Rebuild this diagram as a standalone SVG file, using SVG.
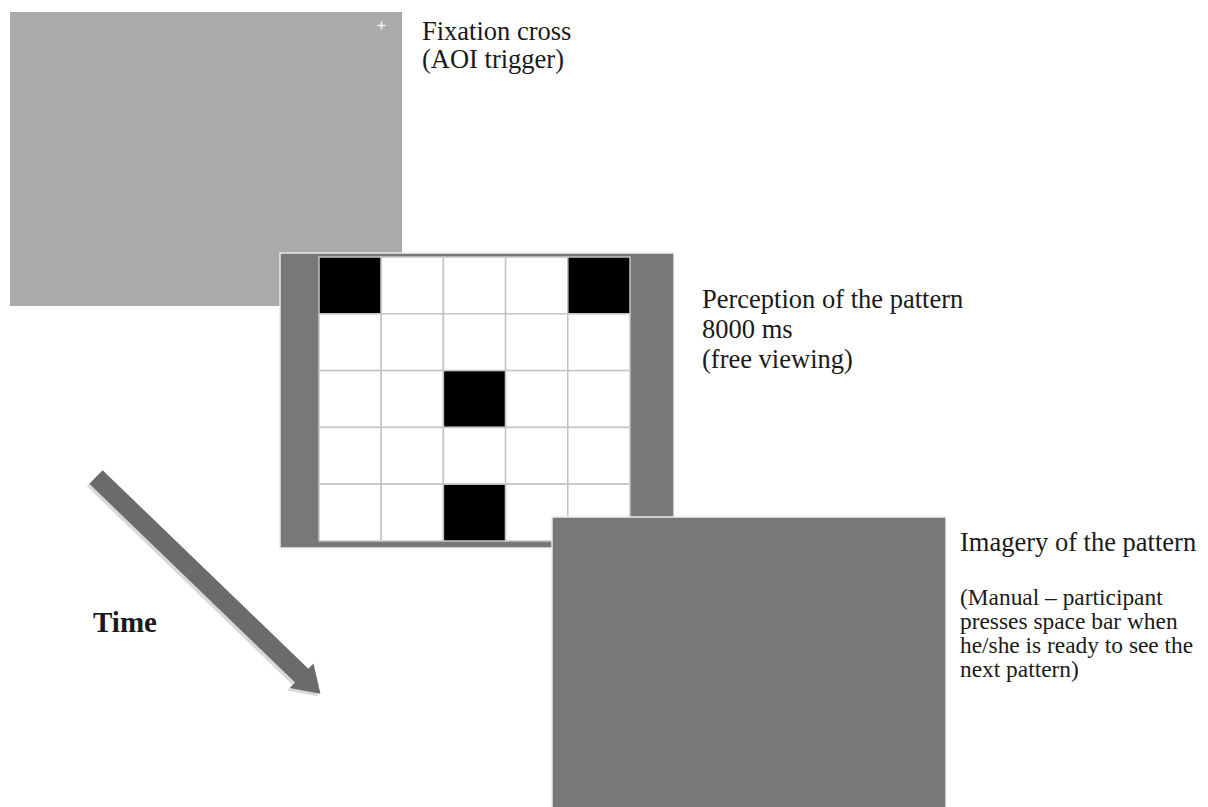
<svg xmlns="http://www.w3.org/2000/svg" width="1208" height="807" viewBox="0 0 1208 807">
  <style>
    .lbl { font-family: "Liberation Serif", "Times New Roman", serif; fill: #1a1a1a; }
    .big { font-size: 26.5px; }
    .small { font-size: 23.4px; }
    .cell { fill: #ffffff; stroke: #c4c4c4; stroke-width: 1.5; }
    .blk { fill: #000000; stroke: #c4c4c4; stroke-width: 1.5; }
  </style>
  <defs>
    <polygon id="arrow-shape" points="0,-9.5 286,-9.5 286,-17 312,0 286,17 286,9.5 0,9.5"/>
  </defs>
  <rect width="1208" height="807" fill="#ffffff"/>

  <g id="fixation-screen">
    <rect x="10" y="12" width="392" height="294" fill="#aaaaaa"/>
    <path d="M377.5 25.5 H385.5 M381.5 21.5 V29.5" stroke="#ffffff" stroke-width="1.6" opacity="0.85"/>
  </g>

  <g id="fixation-label">
    <text class="lbl big" x="422" y="40">Fixation cross</text>
    <text class="lbl big" x="422" y="68">(AOI trigger)</text>
  </g>

  <g id="perception-screen">
    <rect x="280" y="253" width="394" height="295" fill="#787878" stroke="#ececec" stroke-width="1.5"/>
    <g id="grid">
      <rect class="blk" x="319" y="257" width="62.2" height="56.8"/>
      <rect class="cell" x="381.2" y="257" width="62.2" height="56.8"/>
      <rect class="cell" x="443.4" y="257" width="62.2" height="56.8"/>
      <rect class="cell" x="505.6" y="257" width="62.2" height="56.8"/>
      <rect class="blk" x="567.8" y="257" width="62.2" height="56.8"/>

      <rect class="cell" x="319" y="313.8" width="62.2" height="56.8"/>
      <rect class="cell" x="381.2" y="313.8" width="62.2" height="56.8"/>
      <rect class="cell" x="443.4" y="313.8" width="62.2" height="56.8"/>
      <rect class="cell" x="505.6" y="313.8" width="62.2" height="56.8"/>
      <rect class="cell" x="567.8" y="313.8" width="62.2" height="56.8"/>

      <rect class="cell" x="319" y="370.6" width="62.2" height="56.8"/>
      <rect class="cell" x="381.2" y="370.6" width="62.2" height="56.8"/>
      <rect class="blk" x="443.4" y="370.6" width="62.2" height="56.8"/>
      <rect class="cell" x="505.6" y="370.6" width="62.2" height="56.8"/>
      <rect class="cell" x="567.8" y="370.6" width="62.2" height="56.8"/>

      <rect class="cell" x="319" y="427.4" width="62.2" height="56.8"/>
      <rect class="cell" x="381.2" y="427.4" width="62.2" height="56.8"/>
      <rect class="cell" x="443.4" y="427.4" width="62.2" height="56.8"/>
      <rect class="cell" x="505.6" y="427.4" width="62.2" height="56.8"/>
      <rect class="cell" x="567.8" y="427.4" width="62.2" height="56.8"/>

      <rect class="cell" x="319" y="484.2" width="62.2" height="56.8"/>
      <rect class="cell" x="381.2" y="484.2" width="62.2" height="56.8"/>
      <rect class="blk" x="443.4" y="484.2" width="62.2" height="56.8"/>
      <rect class="cell" x="505.6" y="484.2" width="62.2" height="56.8"/>
      <rect class="cell" x="567.8" y="484.2" width="62.2" height="56.8"/>
    </g>
  </g>

  <g id="perception-label">
    <text class="lbl big" x="702" y="308">Perception of the pattern</text>
    <text class="lbl big" x="702" y="338">8000 ms</text>
    <text class="lbl big" x="702" y="368">(free viewing)</text>
  </g>

  <g id="imagery-screen">
    <rect x="552" y="517" width="394" height="300" fill="#787878" stroke="#ececec" stroke-width="1.5"/>
  </g>

  <g id="imagery-label">
    <text class="lbl big" x="960" y="551">Imagery of the pattern</text>
    <text class="lbl small" x="960" y="605">(Manual – participant</text>
    <text class="lbl small" x="960" y="629">presses space bar when</text>
    <text class="lbl small" x="960" y="653">he/she is ready to see the</text>
    <text class="lbl small" x="960" y="677">next pattern)</text>
  </g>

  <g id="connectors">
    <g id="time-arrow">
      <use href="#arrow-shape" transform="translate(93.5,479.5) rotate(44)" fill="#d8d8d8"/>
      <use href="#arrow-shape" transform="translate(96,477) rotate(44)" fill="#6b6b6b"/>
    </g>
  </g>

  <g id="time-label">
    <text class="lbl" x="93" y="632" font-size="29" font-weight="bold" fill="#000000">Time</text>
  </g>
</svg>
